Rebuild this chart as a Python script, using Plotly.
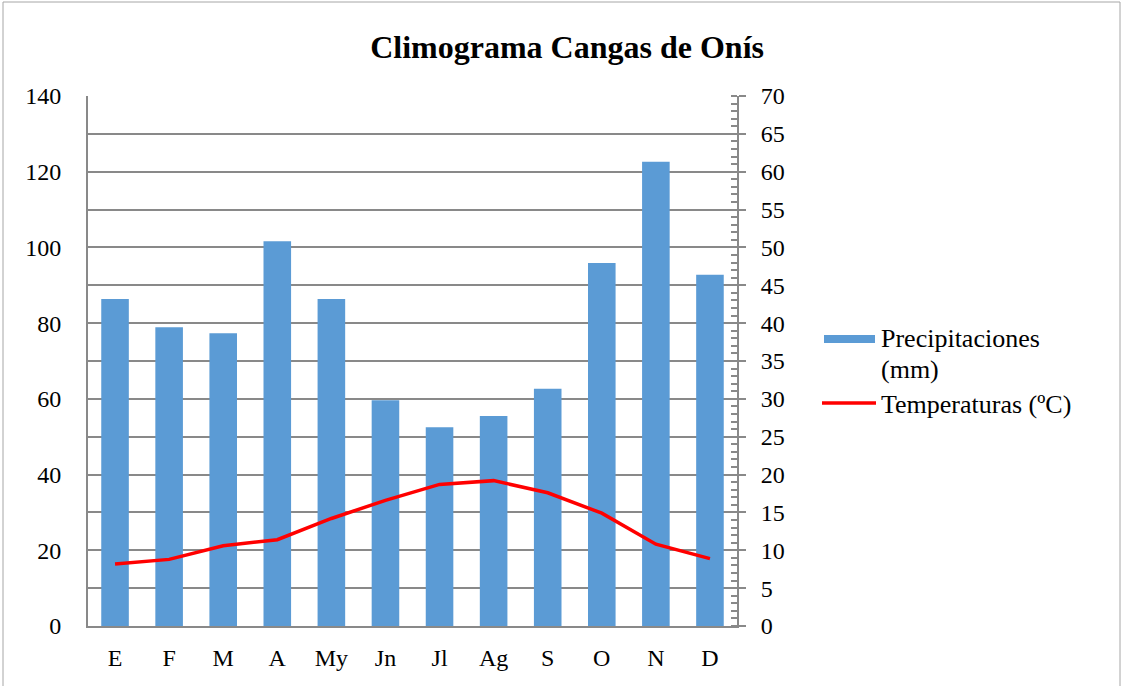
import plotly.graph_objects as go

months = ["E", "F", "M", "A", "My", "Jn", "Jl", "Ag", "S", "O", "N", "D"]
precip = [86.4, 78.9, 77.3, 101.6, 86.4, 59.6, 52.5, 55.5, 62.7, 95.9, 122.6, 92.8]
temps = [8.2, 8.8, 10.6, 11.4, 14.2, 16.6, 18.7, 19.2, 17.6, 14.9, 10.8, 8.9]
left_ticks = [0, 20, 40, 60, 80, 100, 120, 140]

W, H = 1123, 686
L, R, T, B = 88, 737, 96, 626  # plot area in px

def px(x):
    return (x - L) / (R - L)

def py(y):
    return (B - y) / (B - T)

FONT = "Liberation Serif"
GRID = "#898989"
BLUE = "#5B9BD5"

fig = go.Figure()
fig.add_trace(go.Bar(x=months, y=precip, marker=dict(color=BLUE, line=dict(width=0)),
                     name="Precipitaciones (mm)", showlegend=False))
fig.add_trace(go.Scatter(x=months, y=temps, yaxis="y2", mode="lines",
                         line=dict(color="#FF0000", width=3.5),
                         name="Temperaturas (ºC)", showlegend=False))

fig.update_layout(
    width=W, height=H,
    margin=dict(l=L, r=W - R, t=T, b=H - B, pad=0),
    paper_bgcolor="white", plot_bgcolor="white",
    font=dict(family=FONT, size=24, color="black"),
    bargap=0.49,
    title=dict(text="<b>Climograma Cangas de Onís</b>", font=dict(family=FONT, size=32, color="black"),
               xref="container", yref="container", x=0.505, xanchor="center",
               y=1 - 47 / H, yanchor="middle"),
    xaxis=dict(type="category", categoryorder="array", categoryarray=months,
               showgrid=False, showline=True, linecolor=GRID, linewidth=2,
               ticks="", ticklabelstandoff=9, tickfont=dict(size=24)),
    yaxis=dict(range=[0, 140], tickvals=left_ticks, showgrid=True, gridcolor=GRID, gridwidth=1.5,
               minor=dict(dtick=10, tick0=0, showgrid=True, gridcolor=GRID, gridwidth=1.5),
               showline=True, linecolor=GRID, linewidth=2, zeroline=False,
               ticks="", ticklabelstandoff=20, tickfont=dict(size=24)),
    yaxis2=dict(range=[0, 70], dtick=5, tick0=0, overlaying="y", side="right",
                showgrid=False, zeroline=False, showline=True, linecolor=GRID, linewidth=2,
                ticks="outside", ticklen=7, tickwidth=2, tickcolor=GRID,
                minor=dict(dtick=1, ticks="inside", ticklen=6, tickwidth=1.5, tickcolor=GRID),
                ticklabelstandoff=10, tickfont=dict(size=24)),
)

# custom legend (Excel style)
fig.add_shape(type="rect", xref="paper", yref="paper", x0=px(824), x1=px(875), y0=py(343), y1=py(335),
              fillcolor=BLUE, line=dict(width=0))
fig.add_shape(type="line", xref="paper", yref="paper", x0=px(822), x1=px(876), y0=py(403), y1=py(403),
              line=dict(color="#FF0000", width=3.5))
for txt, yy in [("Precipitaciones", 338), ("(mm)", 369), ("Temperaturas (ºC)", 404)]:
    fig.add_annotation(text=txt, xref="paper", yref="paper", x=px(879), y=py(yy),
                       xanchor="left", yanchor="middle", showarrow=False,
                       font=dict(family=FONT, size=26, color="black"))

# outer chart border
fig.add_shape(type="rect", xref="paper", yref="paper", x0=px(3), x1=px(1120), y0=py(700), y1=py(2),
              line=dict(color="#A6A6A6", width=1), fillcolor="rgba(0,0,0,0)", layer="below")

fig.write_html("out.html", config={"displayModeBar": False},
               post_script="document.body.style.margin='0';document.body.style.overflow='hidden';")
